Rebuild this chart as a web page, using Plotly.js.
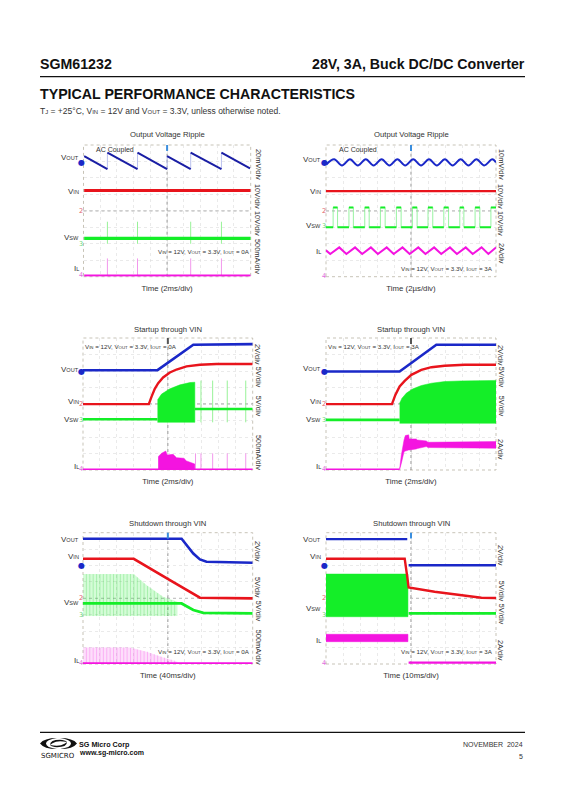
<!DOCTYPE html>
<html><head><meta charset="utf-8">
<script src="https://cdn.plot.ly/plotly-3.0.1.min.js"></script>
<style>html,body{margin:0;padding:0;background:#fff}</style></head>
<body><div id="chart" style="width:565px;height:800px"></div>
<script>
/* All series are in scope divisions: X 0..10 from the left, Y 0..8 from the bottom. */
const small=t=>'<span style="font-size:70%">'+t+'</span>';
const condition=a=>'V'+small('IN')+' = 12V, V'+small('OUT')+' = 3.3V, I'+small('OUT')+' = '+a;
const titles=["Output Voltage Ripple","Output Voltage Ripple","Startup through VIN","Startup through VIN","Shutdown through VIN","Shutdown through VIN"];
const timeLabels=["Time (2ms/div)","Time (2µs/div)","Time (2ms/div)","Time (2ms/div)","Time (40ms/div)","Time (10ms/div)"];
const conditionCurrents=["0A","3A","0A","3A","0A","3A"];
const scales=[["20mV/div","10V/div","10V/div","500mA/div"],["10mV/div","10V/div","10V/div","2A/div"],["2V/div","5V/div","5V/div","500mA/div"],["2V/div","5V/div","5V/div","2A/div"],["2V/div","5V/div","5V/div","500mA/div"],["2V/div","5V/div","5V/div","2A/div"]];

// Chart 1
const c1VoutX=[0.04,1.43,1.43,3.23,3.23,5,5,6.41,6.41,8.25,8.25,9.96];
const c1VoutY=[7.33,6.54,7.53,6.54,7.53,6.54,7.33,6.54,7.53,6.54,7.53,6.58];
const c1VinX=[0.04,10],c1VinY=[5.24,5.24];
const c1VswX=[0.04,10],c1VswY=[2.33,2.33];
const c1IlX=[0.04,10],c1IlY=[0.08,0.08];
const c1SpikeX=[1.43,3.23,6.41,8.25];

// Chart 2
const c2VoutX=[0.02,0.48,0.94,1.41,1.87,2.34,2.8,3.27,3.73,4.2,4.66,5.13,5.59,6.06,6.52,6.99,7.45,7.92,8.38,8.85,9.31,9.78,10];
const c2VoutY=[6.82,7.13,6.76,7.13,6.76,7.13,6.76,7.13,6.76,7.13,6.76,7.13,6.76,7.13,6.76,7.13,6.76,7.13,6.76,7.13,6.76,7.13,6.95];
const c2VinX=[0,10],c2VinY=[5.2,5.2];
const c2VswX=[0,0.42,0.42,0.68,0.68,1.35,1.35,1.61,1.61,2.28,2.28,2.54,2.54,3.2,3.2,3.48,3.48,4.14,4.14,4.42,4.42,5.08,5.08,5.36,5.36,6,6,6.28,6.28,6.93,6.93,7.21,7.21,7.87,7.87,8.11,8.11,8.77,8.77,9.05,9.05,9.7,9.7,10];
const c2VswY=[3,3,4.21,4.21,3,3,4.21,4.21,3,3,4.21,4.21,3,3,4.21,4.21,3,3,4.21,4.21,3,3,4.21,4.21,3,3,4.21,4.21,3,3,4.21,4.21,3,3,4.21,4.21,3,3,4.21,4.21,3,3,4.21,4.21];
const c2IlX=[0,0.25,0.78,1.2,1.71,2.13,2.64,3.05,3.57,3.98,4.5,4.92,5.43,5.85,6.36,6.78,7.29,7.7,8.22,8.63,9.15,9.55,10];
const c2IlY=[1.6,1.38,1.78,1.38,1.78,1.38,1.78,1.38,1.78,1.38,1.78,1.38,1.78,1.38,1.78,1.38,1.78,1.38,1.78,1.38,1.78,1.38,1.78];

// Chart 3
const c3VoutX=[0,4.39,6.5,10],c3VoutY=[6.05,6.05,7.59,7.63];
const c3VinX=[0,3.88,4.04,4.23,4.43,4.72,5.12,5.51,6.1,6.89,7.87,10];
const c3VinY=[3.99,3.99,4.45,4.92,5.26,5.61,5.91,6.09,6.28,6.38,6.42,6.42];
const c3VswX=[0,4.39],c3VswY=[3.08,3.08];
const c3Vsw2X=[6.59,10],c3Vsw2Y=[3.7,3.7];
const c3BandX=[4.39,4.63,5.12,5.71,6.3,6.59];
const c3BandTop=[4.25,4.6,4.92,5.16,5.3,5.32];
const c3BandLow=[2.89,2.89,2.89,2.89,2.89,2.89];
const c3SpikeX=[6.95,7.64,8.5,9.59];
const c3IlX=[0,10],c3IlY=[0.04,0.04];
const c3IlBandX=[4.43,4.63,4.88,4.96,5.31,5.51,5.94,6.1,6.59];
const c3IlBandTop=[0.81,1.01,1.15,0.91,0.95,0.75,0.71,0.55,0.36];
const c3IlBandLow=[0.04,0.04,0.04,0.04,0.04,0.04,0.04,0.04,0.04];
const c3IlSpikeX=[6.63,6.95,7.64,8.5,9.59];

// Chart 4
const c4VoutX=[0,4.33,6.49,10],c4VoutY=[5.97,5.97,7.59,7.59];
const c4VinX=[0,3.88,4.08,4.33,4.63,5.02,5.61,6.2,6.98,8.16,10];
const c4VinY=[3.99,3.99,4.55,5.06,5.4,5.77,6.07,6.23,6.32,6.38,6.38];
const c4VswX=[0,4.33],c4VswY=[3.04,3.04];
const c4BandX=[4.33,4.47,4.73,5.12,5.61,6.2,6.98,7.96,10];
const c4BandTop=[4.05,4.35,4.66,4.92,5.12,5.26,5.36,5.4,5.43];
const c4BandLow=[2.83,2.83,2.83,2.83,2.83,2.83,2.83,2.83,2.83];
const c4IlX=[0,4.33],c4IlY=[0.04,0.04];
const c4IlBandX=[4.33,4.43,4.59,4.67,4.86,4.9,5.31,5.37,5.9,6,10];
const c4IlBandTop=[0.04,0.9,1.82,2.09,2.13,1.88,1.88,1.82,1.76,1.68,1.72];
const c4IlBandLow=[0.04,0.4,1.1,1.15,1.21,1.21,1.28,1.3,1.42,1.36,1.32];

// Chart 5
const c5VoutX=[0,5.81,6.5,6.89,7.28,10],c5VoutY=[7.63,7.63,6.73,6.37,6.23,6.17];
const c5VinX=[0,2.99,5.12,6.1,6.89,10],c5VinY=[6.41,6.41,5.11,4.5,4.04,4];
const c5VswX=[0,5.81,6.5,7.09,10],c5VswY=[3.69,3.69,3.29,3.12,3.08];
const c5BandX=[0,2.99,3.74,4.72,5.57];
const c5BandTop=[5.48,5.48,4.81,4.1,3.79];
const c5BandLow=[2.92,2.92,2.92,2.92,2.92];
const c5StripeX=[0.2,0.4,0.6,0.8,1.0,1.2,1.4,1.6,1.8,2.0,2.2,2.4,2.6,2.8,3.0,3.2,3.4,3.6,3.8,4.0,4.2,4.4,4.6,4.8,5.0,5.2,5.4];
const c5StripeTop=[5.48,5.48,5.48,5.48,5.48,5.48,5.48,5.48,5.48,5.48,5.48,5.48,5.48,5.48,5.46,5.28,5.1,4.92,4.75,4.6,4.46,4.32,4.18,4.06,3.98,3.9,3.83];
const c5IlX=[0,10],c5IlY=[0.04,0.04];
const c5IlBandX=[0,2.76,3.74,4.72,5.57];
const c5IlBandTop=[1.01,1.01,0.75,0.39,0.14];
const c5IlBandLow=[0.04,0.04,0.04,0.04,0.04];
const c5IlStripeTop=[1.01,1.01,1.01,1.01,1.01,1.01,1.01,1.01,1.01,1.01,1.01,1.01,1.01,0.99,0.95,0.89,0.84,0.79,0.75,0.67,0.6,0.53,0.46,0.39,0.33,0.27,0.21];

// Chart 6
const c6VoutX=[0,4.78],c6VoutY=[7.61,7.61];
const c6Vout2X=[4.86,10],c6Vout2Y=[6.02,6.02];
const c6VinX=[0,4.63,4.78,4.86,6.39,8.16,9.14,10],c6VinY=[6.41,6.41,5.31,4.67,4.4,4.14,4.04,4.02];
const c6BandX=[0,4.82],c6BandTop=[5.48,5.48],c6BandLow=[2.88,2.88];
const c6VswX=[4.86,10],c6VswY=[3.08,3.08];
const c6IlBandX=[0,4.82],c6IlBandTop=[1.81,1.81],c6IlBandLow=[1.36,1.36];
const c6IlX=[4.86,10],c6IlY=[0.08,0.08];

const BLUE='#1a28c8',NAVY='#1a1ea4',RED='#e8141c',GREEN='#14ee28',MAG='#f414e0';
const FONT='"Liberation Sans", Arial, sans-serif';
const W=565,H=800;
const px=x=>x/W, py=y=>1-y/H;

const rects=[[83.5,250.7,145,276.7],[326,496,145,276.7],[83,252.7,338,470],[326,496,338,470],[83,252.7,532.7,664],[326,496,532.7,664]];
const titleY=[135,135,329.3,329.3,523.3,523.3];
const noteXY=[[204,252],[446.7,269],[131,346.7],[374,346.7],[204,651],[446.7,651]];
const nameY=[[157,191.7,237,269],[159,191,225,252],[369.7,402,419,466.7],[369,402,419,466.7],[539,556.7,602.7,660.7],[539,556.7,608,640.7]];
const scaleY=[[164,196,223,256],[164,196,223,253],[354,376.7,405.7,452],[355,376.7,405.7,449],[551,587,610.7,646.7],[555,590.7,613.7,650]];
const chanY=[[162,210.7,244,275],[162,210.7,226,276],[371.7,404,420,469],[371.7,404,420,469],[565.7,598,615,663],[565.7,598,615,662.7]];
const trigColor=['#3b8ede','#3b8ede','#555','#555','#3b8ede','#3b8ede'];
const chanGlyph=['●','2','3','4'];
const chanColor=[BLUE,'#e0606a','#66d878','#e070e0'];
const channelNames=['V'+small('OUT'),'V'+small('IN'),'V'+small('SW'),'I'+small('L')];

const traces=[];
function withGaps(x,y){const ox=[],oy=[];x.forEach((v,i)=>{if(i&&x[i-1]===v){ox.push(null);oy.push(null);}ox.push(v);oy.push(y[i]);});return [ox,oy];}
function add(p,x,y,color,width,extra){traces.push(Object.assign({type:'scatter',mode:'lines',x,y,xaxis:'x'+(p+1),yaxis:'y'+(p+1),line:{color,width},hoverinfo:'skip',showlegend:false},extra||{}));}
function stepped(p,x,y,color,thin,width){add(p,x,y,thin,0.8);const g=withGaps(x,y);add(p,g[0],g[1],color,width);}
function spikes(p,xs,lo,hi,color,width){const x=[],y=[];xs.forEach((v,i)=>{x.push(v,v,null);y.push(Array.isArray(lo)?lo[i]:lo,Array.isArray(hi)?hi[i]:hi,null);});add(p,x,y,color,width);}
function band(p,x,top,low,color,fillcolor){add(p,x.concat(x.slice().reverse()),top.concat(low.slice().reverse()),color,0.5,{fill:'toself',fillcolor:fillcolor||color});}

// Chart 1
stepped(0,c1VoutX,c1VoutY,NAVY,'#a9b3ea',2);
add(0,c1VinX,c1VinY,RED,3);
spikes(0,c1SpikeX,2.0,3.34,'#8cf08c',0.9);
add(0,c1VswX,c1VswY,GREEN,3.4);
spikes(0,c1SpikeX,0.08,1.11,'#f08cea',0.9);
add(0,c1IlX,c1IlY,MAG,2);
// Chart 2
add(1,c2VoutX,c2VoutY,BLUE,2,{line:{color:BLUE,width:2,shape:'spline'}});
add(1,c2VinX,c2VinY,RED,2.2);
stepped(1,c2VswX,c2VswY,GREEN,'#7ef08a',2);
add(1,c2IlX,c2IlY,MAG,2);
// Chart 3
add(2,c3VoutX,c3VoutY,BLUE,2.6);
band(2,c3BandX,c3BandTop,c3BandLow,GREEN);
spikes(2,c3SpikeX,2.89,5.42,'#8cf08c',0.9);
add(2,c3VswX,c3VswY,GREEN,2.6);
add(2,c3Vsw2X,c3Vsw2Y,GREEN,2.6);
add(2,c3VinX,c3VinY,RED,2.4);
band(2,c3IlBandX,c3IlBandTop,c3IlBandLow,MAG);
spikes(2,c3IlSpikeX,0.04,1.01,'#f08cea',0.9);
add(2,c3IlX,c3IlY,MAG,1.6);
// Chart 4
add(3,c4VoutX,c4VoutY,BLUE,2.6);
band(3,c4BandX,c4BandTop,c4BandLow,GREEN);
add(3,c4VswX,c4VswY,GREEN,2.6);
add(3,c4VinX,c4VinY,RED,2.4);
band(3,c4IlBandX,c4IlBandTop,c4IlBandLow,MAG);
add(3,c4IlX,c4IlY,MAG,1.6);
// Chart 5
band(4,c5BandX,c5BandTop,c5BandLow,'rgba(16,238,32,0)','rgba(16,238,32,0.18)');
spikes(4,c5StripeX,2.92,c5StripeTop,'rgba(16,200,32,0.32)',0.7);
band(4,c5IlBandX,c5IlBandTop,c5IlBandLow,'rgba(244,20,224,0)','rgba(244,20,224,0.14)');
spikes(4,c5StripeX,0.04,c5IlStripeTop,'rgba(244,20,224,0.32)',0.7);
add(4,c5VoutX,c5VoutY,BLUE,2.6);
add(4,c5VinX,c5VinY,RED,2.6);
add(4,c5VswX,c5VswY,GREEN,2.8);
add(4,c5IlX,c5IlY,MAG,2);
// Chart 6
add(5,c6VoutX,c6VoutY,BLUE,2.2);
add(5,c6Vout2X,c6Vout2Y,BLUE,2.6);
band(5,c6BandX,c6BandTop,c6BandLow,GREEN);
add(5,c6VswX,c6VswY,GREEN,2.8);
add(5,c6VinX,c6VinY,RED,2.4);
band(5,c6IlBandX,c6IlBandTop,c6IlBandLow,MAG);
add(5,c6IlX,c6IlY,MAG,2.2);

const layout={width:W,height:H,margin:{l:0,r:0,t:0,b:0},paper_bgcolor:'#fff',plot_bgcolor:'#fff',showlegend:false,font:{family:FONT,color:'#222',size:8},shapes:[],annotations:[]};
function note(text,x,y,size,opt){layout.annotations.push(Object.assign({text,x:px(x),y:py(y),xref:'paper',yref:'paper',showarrow:false,xanchor:'center',yanchor:'middle',font:{size,family:FONT,color:'#333'},borderpad:0,borderwidth:0},opt||{}));}
function hrule(x0,x1,y,w){layout.shapes.push({type:'line',xref:'paper',yref:'paper',x0:px(x0),x1:px(x1),y0:py(y),y1:py(y),line:{color:'#111',width:w}});}
function pagePath(points){return points.map(p=>typeof p==='string'?p:px(p[0])+' '+py(p[1])).join(' ');}

rects.forEach((r,i)=>{
  const n=i+1;
  layout['xaxis'+n]={domain:[px(r[0]),px(r[1])],range:[0,10],anchor:'y'+n,dtick:1,showgrid:true,gridcolor:'#dcdcdc',griddash:'dot',gridwidth:0.6,showticklabels:false,ticks:'',zeroline:false,showline:false,
    title:{text:timeLabels[i],font:{size:7.8,family:FONT,color:'#333'},standoff:8}};
  layout['yaxis'+n]={domain:[py(r[3]),py(r[2])],range:[0,8],anchor:'x'+n,dtick:1,showgrid:true,gridcolor:'#dcdcdc',griddash:'dot',gridwidth:0.6,showticklabels:false,ticks:'',zeroline:false,showline:false};
  const xd='x'+n+' domain',yd='y'+n+' domain';
  layout.shapes.push({type:'rect',xref:xd,yref:yd,x0:0,x1:1,y0:0,y1:1,line:{color:'#b9b4a4',width:0.8,dash:'dot'},layer:'below'});
  layout.shapes.push({type:'line',xref:xd,yref:yd,x0:0.5,x1:0.5,y0:0,y1:1,line:{color:'#666',width:0.7,dash:'dot'},layer:'below'});
  layout.shapes.push({type:'line',xref:xd,yref:yd,x0:0,x1:1,y0:0.5,y1:0.5,line:{color:'#666',width:0.7,dash:'dot'},layer:'below'});
  layout.shapes.push({type:'line',xref:xd,yref:yd,x0:0.5,x1:0.5,y0:0.955,y1:1,line:{color:trigColor[i],width:2}});
  const cx=(r[0]+r[1])/2;
  note(titles[i],cx,titleY[i],7.7);
  note(condition(conditionCurrents[i]),noteXY[i][0],noteXY[i][1],6.2);
  const nameRight=i%2?320.7:78.5, scaleX=i%2?501:258, chanX=i%2?324:81;
  channelNames.forEach((t,k)=>note(t,nameRight,nameY[i][k],8,{xanchor:'right'}));
  scales[i].forEach((t,k)=>note(t,scaleX,scaleY[i][k],7.4,{textangle:90}));
  chanGlyph.forEach((t,k)=>note(t,chanX,chanY[i][k],k?6.5:8,{font:{size:k?6.5:8,family:'"DejaVu Sans"',color:chanColor[k]}}));
});
note('AC Coupled',114.7,150,7);
note('AC Coupled',357.7,150,7);

hrule(40,525,76.7,1.3);
hrule(40,525,732.3,1.3);
note('<b>SGM61232</b>',40,64,14.2,{xanchor:'left',font:{size:14.2,family:FONT,color:'#111'}});
note('<b>28V, 3A, Buck DC/DC Converter</b>',525,64,14.2,{xanchor:'right',font:{size:14.2,family:FONT,color:'#111'}});
note('<b>TYPICAL PERFORMANCE CHARACTERISTICS</b>',40,94,14.2,{xanchor:'left',font:{size:14.2,family:FONT,color:'#111'}});
note('T'+small('J')+' = +25°C, V'+small('IN')+' = 12V and V'+small('OUT')+' = 3.3V, unless otherwise noted.',40,111,8.5,{xanchor:'left'});
note('<b>SG Micro Corp</b>',79,744,7.2,{xanchor:'left',font:{size:7.2,family:FONT,color:'#111'}});
note('<b>www.sg-micro.com</b>',79,752.7,7,{xanchor:'left',font:{size:7,family:FONT,color:'#111'}});
note('NOVEMBER  2024',523,744,7,{xanchor:'right'});
note('5',523,756,7,{xanchor:'right'});
note('SGMICRO',57.5,755.5,7,{font:{size:7,family:'"DejaVu Sans"',color:'#111'}});
// logo, drawn in page coordinates
const logoPaths=[
 ['M',[40,743.5],'Q',[44,738],[57,738],'Q',[46,739.5],[46,743.5],'Q',[46,747.5],[57,749],'Q',[44,749],[40,743.5],'Z'],
 ['M',[77,743.5],'Q',[73,749],[60,749],'Q',[71,747.5],[71,743.5],'Q',[71,739.5],[60,738],'Q',[73,738],[77,743.5],'Z'],
 ['M',[50,745],'Q',[50,739.8],[60,739.8],'Q',[65,740],[67,742],'Q',[60,740.8],[56,741.8],'Q',[52,743],[50,745],'Z'],
 ['M',[67,742],'Q',[67,747.2],[57,747.2],'Q',[52,747],[50,745],'Q',[57,746.2],[61,745.2],'Q',[65,744],[67,742],'Z']
];
logoPaths.forEach(p=>layout.shapes.push({type:'path',xref:'paper',yref:'paper',path:pagePath(p),fillcolor:'#111',line:{width:0}}));

Plotly.newPlot('chart',traces,layout,{displayModeBar:false,staticPlot:true});
</script></body></html>
